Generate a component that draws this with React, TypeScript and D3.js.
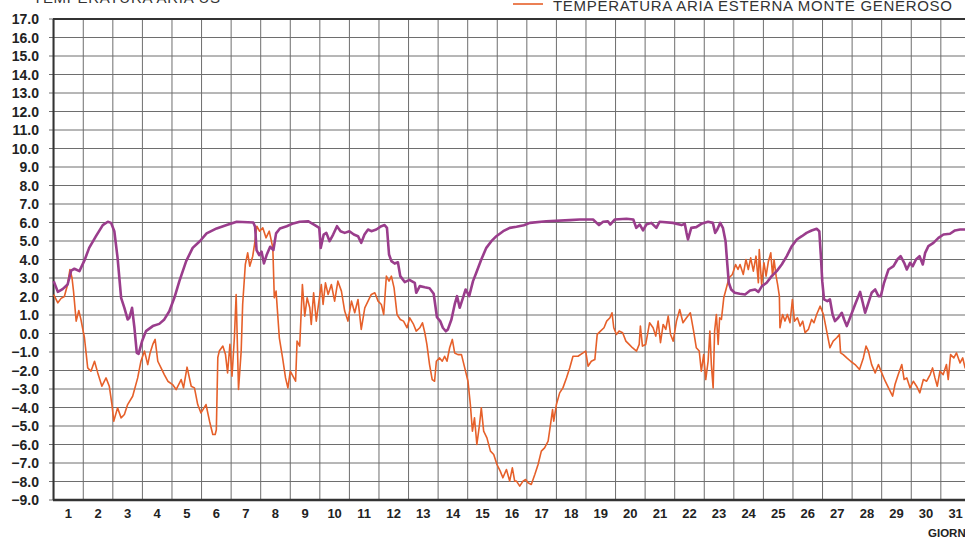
import React from 'react';
import * as d3 from 'd3';

// ---- data ----
const dayLabels = ["1","2","3","4","5","6","7","8","9","10","11","12","13","14","15","16","17","18","19","20","21","22","23","24","25","26","27","28","29","30","31"];
const tempTicks = [17,16,15,14,13,12,11,10,9,8,7,6,5,4,3,2,1,0,-1,-2,-3,-4,-5,-6,-7,-8,-9];

const purpleDays = [0.0,0.14,0.3,0.47,0.59,0.7,0.87,1.04,1.2,1.43,1.66,1.83,1.94,2.05,2.16,2.28,2.39,2.5,2.56,2.65,2.73,2.81,2.87,2.99,3.12,3.35,3.57,3.74,3.91,4.08,4.25,4.48,4.7,4.95,5.17,5.51,5.85,6.19,6.75,6.81,6.86,6.95,7.03,7.11,7.2,7.32,7.43,7.52,7.65,7.88,8.1,8.32,8.6,8.83,8.98,9.03,9.13,9.22,9.33,9.45,9.58,9.7,9.84,10.0,10.15,10.29,10.4,10.51,10.63,10.74,10.91,11.08,11.19,11.27,11.34,11.42,11.53,11.64,11.72,11.87,12.03,12.21,12.26,12.38,12.55,12.71,12.85,12.96,13.07,13.16,13.26,13.33,13.45,13.56,13.64,13.73,13.84,13.93,14.05,14.18,14.29,14.46,14.63,14.8,14.97,15.2,15.42,15.65,15.9,16.1,16.66,17.45,17.79,18.24,18.44,18.58,18.74,18.82,18.97,19.37,19.6,19.7,19.82,19.93,20.04,20.21,20.38,20.49,20.94,21.23,21.34,21.4,21.45,21.56,21.73,21.9,22.13,22.29,22.37,22.44,22.54,22.63,22.72,22.78,22.83,22.91,23.03,23.2,23.38,23.55,23.72,23.83,23.95,24.11,24.28,24.45,24.62,24.79,24.96,25.13,25.3,25.46,25.63,25.8,25.89,25.94,25.99,26.05,26.16,26.25,26.34,26.42,26.53,26.65,26.73,26.82,26.93,27.1,27.27,27.36,27.44,27.55,27.66,27.78,27.89,27.97,28.08,28.23,28.4,28.53,28.64,28.76,28.85,28.96,29.05,29.16,29.28,29.39,29.47,29.58,29.75,29.92,30.09,30.31,30.48,30.65,30.85,31.0];
const purpleTemps = [2.83,2.25,2.4,2.65,3.4,3.5,3.37,3.95,4.63,5.26,5.86,6.04,5.98,5.53,4.09,1.93,1.39,0.76,0.85,1.39,0.31,-1.05,-1.1,-0.41,0.13,0.4,0.52,0.76,1.2,1.93,2.83,3.91,4.63,5.0,5.41,5.68,5.86,6.04,6.0,5.77,4.51,4.24,4.42,3.79,4.24,4.69,4.51,5.41,5.68,5.8,5.95,6.04,6.07,5.86,5.71,4.63,5.35,5.44,4.99,5.35,5.8,5.53,5.44,5.53,5.35,5.26,4.9,5.35,5.62,5.53,5.62,5.8,5.86,5.71,4.27,3.91,3.78,3.85,3.1,2.78,2.9,2.74,2.2,2.56,2.5,2.45,2.15,0.88,0.67,0.31,0.12,0.22,0.76,1.57,2.02,1.39,1.93,2.38,2.02,2.83,3.28,4.0,4.63,4.99,5.26,5.53,5.71,5.77,5.85,5.98,6.07,6.13,6.16,6.16,5.86,6.04,6.07,5.89,6.16,6.2,6.16,5.71,5.89,5.57,5.89,5.98,5.71,6.04,5.98,5.86,5.93,5.44,5.08,5.71,5.75,5.93,6.04,5.98,5.44,5.62,5.98,5.71,4.99,3.73,2.74,2.38,2.2,2.15,2.11,2.32,2.38,2.25,2.56,2.74,3.1,3.37,3.73,4.18,4.72,5.08,5.26,5.44,5.57,5.66,5.53,4.27,2.83,1.84,1.75,1.84,1.03,0.67,0.85,1.12,0.76,0.4,0.85,1.57,2.25,1.66,1.12,1.66,2.2,2.38,2.02,2.02,2.74,3.46,3.64,4.0,4.18,3.82,3.46,3.82,3.64,4.0,4.18,3.73,4.36,4.72,4.9,5.17,5.35,5.39,5.57,5.62,5.62,5.6];

const orangeDays = [0.0,0.14,0.25,0.36,0.47,0.55,0.62,0.67,0.76,0.85,0.92,1.04,1.15,1.26,1.38,1.49,1.63,1.77,1.88,1.97,2.03,2.16,2.28,2.39,2.5,2.67,2.84,2.95,3.07,3.18,3.26,3.35,3.43,3.52,3.63,3.74,3.86,4.02,4.14,4.31,4.39,4.51,4.65,4.76,4.87,4.98,5.15,5.27,5.38,5.46,5.5,5.55,5.6,5.72,5.81,5.88,5.96,6.03,6.11,6.17,6.25,6.34,6.39,6.48,6.56,6.63,6.73,6.79,6.87,6.96,7.07,7.18,7.29,7.41,7.46,7.52,7.63,7.74,7.84,7.92,8.0,8.09,8.18,8.23,8.32,8.41,8.49,8.57,8.66,8.71,8.79,8.88,8.97,9.05,9.11,9.19,9.28,9.39,9.5,9.61,9.73,9.84,9.95,10.07,10.18,10.29,10.4,10.52,10.63,10.74,10.86,10.97,11.08,11.16,11.25,11.34,11.42,11.51,11.61,11.72,11.83,11.95,12.04,12.17,12.26,12.38,12.47,12.55,12.62,12.71,12.8,12.88,12.94,13.05,13.14,13.22,13.3,13.39,13.48,13.56,13.67,13.79,13.9,14.01,14.09,14.16,14.23,14.31,14.4,14.46,14.54,14.65,14.77,14.88,14.99,15.1,15.19,15.31,15.42,15.51,15.59,15.65,15.76,15.87,15.96,16.04,16.15,16.27,16.38,16.49,16.6,16.72,16.8,16.87,16.91,17.0,17.11,17.22,17.34,17.45,17.56,17.73,17.9,17.99,18.07,18.18,18.3,18.38,18.49,18.61,18.7,18.81,18.88,18.94,19.03,19.12,19.24,19.35,19.46,19.57,19.71,19.8,19.84,19.91,20.02,20.15,20.27,20.36,20.44,20.52,20.61,20.7,20.78,20.86,20.95,21.06,21.17,21.28,21.4,21.53,21.64,21.73,21.83,21.9,21.98,22.05,22.13,22.19,22.24,22.3,22.35,22.41,22.47,22.52,22.58,22.66,22.75,22.84,22.95,23.06,23.14,23.21,23.32,23.41,23.49,23.57,23.66,23.75,23.83,23.86,23.94,24.02,24.09,24.17,24.25,24.31,24.36,24.43,24.48,24.54,24.56,24.65,24.73,24.81,24.9,24.98,25.05,25.15,25.24,25.33,25.41,25.52,25.63,25.71,25.8,25.92,26.03,26.14,26.25,26.36,26.48,26.57,26.61,26.7,26.82,26.95,27.1,27.25,27.38,27.47,27.55,27.66,27.78,27.89,28.0,28.12,28.26,28.37,28.45,28.56,28.68,28.76,28.85,28.96,29.07,29.18,29.29,29.41,29.52,29.64,29.72,29.8,29.88,29.97,30.08,30.19,30.25,30.33,30.44,30.53,30.65,30.74,30.82,31.0];
const orangeTemps = [2.1,1.66,1.9,2.0,2.65,3.46,3.0,2.29,0.67,1.24,0.76,-0.23,-1.86,-2.04,-1.5,-2.13,-2.85,-2.4,-2.85,-3.84,-4.74,-4.02,-4.56,-4.38,-3.84,-3.39,-2.4,-1.5,-0.95,-1.68,-1.05,-0.59,-0.32,-1.5,-1.86,-2.22,-2.58,-2.76,-3.03,-2.49,-2.94,-1.82,-2.85,-2.94,-3.84,-4.29,-3.84,-4.74,-5.46,-5.46,-5.2,-1.3,-0.95,-0.68,-1.14,-2.13,-0.59,-2.31,-0.23,2.1,-3.03,-0.95,1.57,3.73,4.36,3.64,4.18,4.81,5.8,5.53,5.71,5.17,5.53,4.63,1.93,2.29,-0.23,-1.32,-2.4,-2.94,-2.04,-2.31,-2.58,-0.41,-0.68,2.65,0.94,1.93,1.39,0.49,2.2,0.67,1.75,2.65,1.57,2.74,2.11,2.65,1.75,2.83,2.29,1.21,0.67,1.75,1.12,1.84,0.22,1.39,1.75,2.11,2.2,1.75,1.57,1.03,3.1,2.83,3.1,2.47,1.03,0.76,0.67,0.31,0.85,0.49,0.13,0.31,0.58,0.04,-0.59,-1.68,-2.49,-2.58,-1.5,-1.32,-1.5,-1.23,-1.5,-0.77,-0.32,-1.05,-1.14,-1.14,-1.86,-2.58,-3.84,-5.28,-4.56,-6.0,-4.92,-4.02,-5.28,-5.64,-6.36,-6.54,-7.08,-7.44,-7.8,-7.35,-7.98,-7.26,-7.98,-7.98,-8.25,-7.98,-7.89,-8.07,-8.16,-7.62,-7.08,-6.36,-6.18,-5.82,-4.92,-4.11,-4.74,-3.84,-3.21,-2.94,-2.4,-1.86,-1.23,-1.23,-1.05,-0.95,-1.77,-1.5,-1.41,-0.05,0.13,0.31,0.67,0.85,1.12,0.31,-0.05,0.13,0.04,-0.41,-0.59,-0.77,-0.95,-0.59,0.4,-0.68,-0.59,0.58,0.31,-0.14,0.67,-0.5,0.49,0.22,0.94,-0.05,-0.41,0.67,1.3,0.58,0.85,1.12,0.13,-0.77,-0.95,-2.04,-1.14,-2.49,-1.5,0.13,-1.68,-2.94,0.13,1.03,-0.59,0.85,0.76,1.93,2.47,3.01,3.19,3.73,3.46,3.73,3.19,4.0,3.46,4.09,3.37,4.18,2.74,4.54,2.65,3.82,3.1,3.91,4.36,3.1,4.0,3.1,2.65,2.02,0.31,1.03,0.67,1.03,0.58,1.84,0.67,0.85,0.4,0.67,0.04,0.22,0.76,0.58,1.03,1.48,1.03,0.13,-0.77,-0.41,-0.23,-0.05,-1.05,-1.14,-1.32,-1.5,-1.68,-1.95,-1.32,-0.68,-0.95,-1.68,-2.13,-1.68,-2.13,-2.58,-3.03,-3.39,-2.76,-2.22,-1.68,-2.49,-2.4,-2.94,-2.58,-2.85,-3.21,-2.49,-2.58,-2.22,-1.86,-2.4,-2.85,-2.04,-2.22,-1.68,-2.49,-1.14,-1.32,-1.05,-1.59,-1.32,-1.86,-1.5];

const leftTitle = "TEMPERATURA ARIA US";
const rightTitle = "TEMPERATURA ARIA ESTERNA MONTE GENEROSO";
const xAxisTitle = "GIORNI";

const PURPLE = '#9a3d8c';
const ORANGE = '#e6602a';

export default function App() {
  const W = 965, H = 538;
  const x = d3.scaleLinear().domain([0, 31]).range([53.7, 970.4]);
  const y = d3.scaleLinear().domain([-9, 17]).range([500, 19]);

  const line = d3.line<[number, number]>().x(d => x(d[0])).y(d => y(d[1]));
  const purplePts: [number, number][] = purpleDays.map((d, i) => [d, purpleTemps[i]]);
  const orangePts: [number, number][] = orangeDays.map((d, i) => [d, orangeTemps[i]]);

  const gridDays = d3.range(0, 32);
  const fmt = (v: number) => (v < 0 ? '\u2212' + Math.abs(v).toFixed(1) : v.toFixed(1));

  return (
    <svg width={W} height={H} style={{ position: 'absolute', left: 0, top: 0, background: '#fff' }}
      fontFamily="'Liberation Sans', Arial, sans-serif">
      {/* titles */}
      <text x={33} y={3} fontSize={15} fill="#333" textLength={187} lengthAdjust="spacing">{leftTitle}</text>
      <line x1={513} x2={543} y1={4} y2={4} stroke={ORANGE} strokeWidth={1.6} />
      <text x={553} y={11} fontSize={15} fill="#333" textLength={399} lengthAdjust="spacing">{rightTitle}</text>

      {/* grid */}
      <g stroke="#6e6e6e" strokeWidth={1}>
        {tempTicks.map(t => (
          <line key={'h' + t} x1={49} x2={W} y1={y(t)} y2={y(t)} />
        ))}
        {gridDays.map(d => (
          <line key={'v' + d} x1={x(d)} x2={x(d)} y1={y(17)} y2={y(-9)} />
        ))}
      </g>
      {/* frame */}
      <line x1={53} x2={W} y1={y(17)} y2={y(17)} stroke="#333" strokeWidth={2} />
      <line x1={53} x2={W} y1={y(-9)} y2={y(-9)} stroke="#333" strokeWidth={2.5} />
      <line x1={53.5} x2={53.5} y1={y(17)} y2={y(-9)} stroke="#333" strokeWidth={2} />

      {/* y labels */}
      {tempTicks.map(t => (
        <text key={'yl' + t} x={39} y={y(t) + 5} fontSize={14} fontWeight="bold" fill="#222" textAnchor="end">{fmt(t)}</text>
      ))}
      {/* x labels */}
      {dayLabels.map((lab, i) => (
        <text key={'xl' + i} x={x(i + 0.5)} y={518} fontSize={13} fontWeight="bold" fill="#222" textAnchor="middle">{lab}</text>
      ))}
      <text x={928} y={537} fontSize={11.5} fontWeight="bold" fill="#222">{xAxisTitle}</text>

      {/* series */}
      <path d={line(orangePts) || ''} fill="none" stroke={ORANGE} strokeWidth={1.6} strokeLinejoin="round" />
      <path d={line(purplePts) || ''} fill="none" stroke={PURPLE} strokeWidth={2.6} strokeLinejoin="round" />
    </svg>
  );
}
